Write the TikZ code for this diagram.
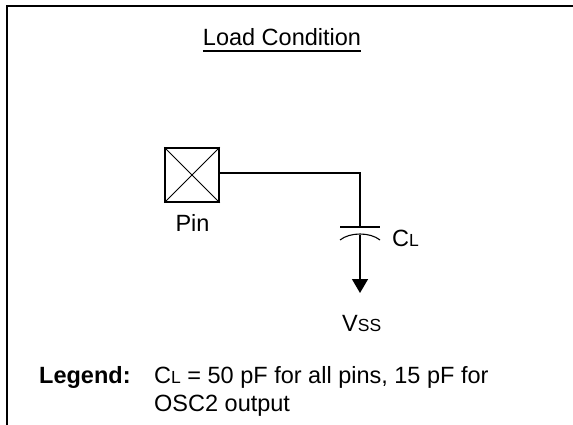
\documentclass[tikz,border=0pt]{standalone}
\usepackage{fontspec}
\setmainfont{Liberation Sans}
\usetikzlibrary{arrows.meta}
\newcommand{\smallsub}[1]{{\fontsize{17.5}{17.5}\selectfont #1}}
\begin{document}
\begin{tikzpicture}[x=1pt,y=-1pt,
  font=\fontsize{23.5}{28}\selectfont,
  lbl/.style={inner sep=0pt, anchor=base west},
  wire/.style={line width=1.5pt}]
\useasboundingbox (0,0) rectangle (573,425);
\clip (0,0) rectangle (573,425);
\draw[line width=2pt] (6.5,440) -- (6.5,6) -- (590,6);
% title
\node[inner sep=0pt, anchor=base] (title) at (282,46) {Load Condition};
\draw[line width=1.2pt] ([yshift=-5pt]title.base west) -- ([yshift=-5pt]title.base east);
% pin
\node[draw, line width=1.5pt, minimum size=54pt, inner sep=0pt] (pin) at (192,175) {};
\draw[line width=0.8pt] (pin.north west) -- (pin.south east);
\draw[line width=0.8pt] (pin.north east) -- (pin.south west);
\node[inner sep=0pt, anchor=base] (pinlbl) at (192.5,231) {Pin};
% capacitor
\coordinate (corner) at (360,173);
\coordinate (ptop) at (360,227);
\coordinate (pbot) at (360,235);
\coordinate (vss) at (360,293);
\draw[wire] ([yshift=2pt]pin.east) -- (corner) -- (ptop);
\draw[line width=1.8pt] (340,227) -- (380,227);
\draw[line width=1.1pt] (340,240) .. controls (350,232) and (370,232) .. (380,240);
\draw[wire, -{Triangle[width=16pt,length=14pt]}] (pbot) -- (vss);
\node[lbl] (cl) at (392,246) {C\smallsub{L}};
\node[lbl] (vsslbl) at (342,331) {V\smallsub{SS}};
% legend
\node[lbl] (leg) at (39,383) {\textbf{Legend:}};
\node[lbl] (leg1) at (154,383) {C\smallsub{L} = 50 pF for all pins, 15 pF for};
\node[lbl] (leg2) at (154,411) {OSC2 output};
\end{tikzpicture}
\end{document}
